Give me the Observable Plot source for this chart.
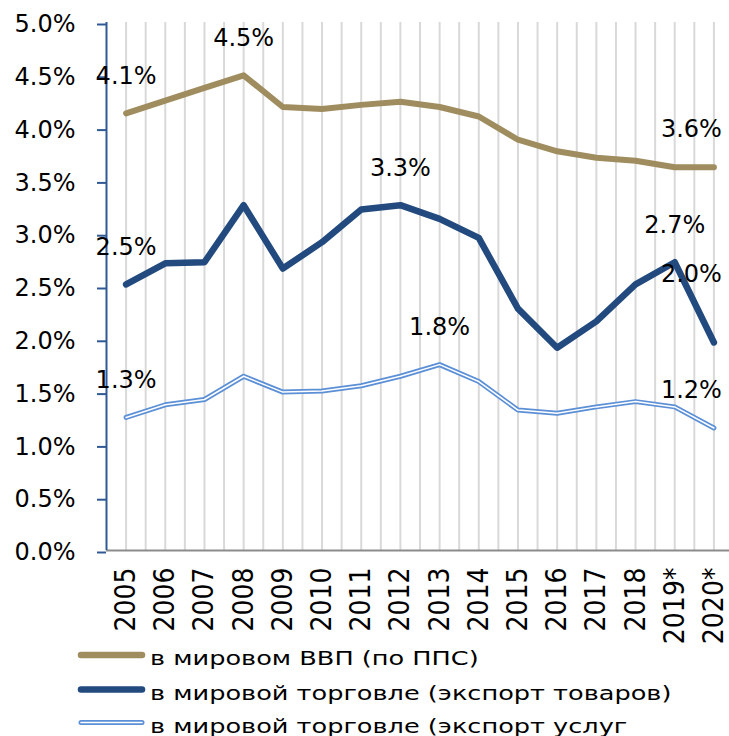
<!DOCTYPE html>
<html>
<head>
<meta charset="utf-8">
<script src="https://cdn.jsdelivr.net/npm/d3@7"></script>
<script src="https://cdn.jsdelivr.net/npm/@observablehq/plot@0.6"></script>
<style>
  html, body { margin: 0; padding: 0; background: #fff; }
  #wrap { position: relative; width: 729px; height: 736px; overflow: hidden; }
  #chart svg { display: block; overflow: visible; }
  #legend { position: absolute; left: 0; top: 640px; }
  #legend svg { display: block; }
</style>
</head>
<body>
<div id="wrap"><div id="chart"></div><div id="legend"></div></div>
<script>
// ---- data ----
const years = ["2005","2006","2007","2008","2009","2010","2011","2012","2013","2014","2015","2016","2017","2018","2019*","2020*"];
const gdpShare = [4.14,4.26,4.38,4.50,4.20,4.18,4.22,4.25,4.20,4.11,3.89,3.78,3.72,3.69,3.63,3.63];
const goodsShare = [2.52,2.72,2.73,3.27,2.67,2.92,3.23,3.27,3.14,2.96,2.29,1.92,2.17,2.52,2.73,1.97];
const servicesShare = [1.26,1.38,1.43,1.65,1.50,1.51,1.56,1.65,1.76,1.60,1.33,1.30,1.36,1.41,1.36,1.16];
const yTicks = [0,0.5,1,1.5,2,2.5,3,3.5,4,4.5,5];
const seriesNames = ["в мировом ВВП (по ППС)", "в мировой торговле (экспорт товаров)", "в мировой торговле (экспорт услуг"];
const gdpLabelYears = ["2005","2008","2020*"];
const goodsLabelYears = ["2005","2012","2019*","2020*"];
const servicesLabelYears = ["2005","2013","2020*"];

// ---- styles ----
const cGdp = "#a08d5f", cGoods = "#224a7e", cServ = "#5b8fd6";
const numFont = "DejaVu Sans";
const narrowFont = "'Liberation Sans Narrow', 'DejaVu Sans Condensed', sans-serif";

const toRows = (vals) => vals.map((v, i) => ({i, v, year: years[i]}));
const gdp = toRows(gdpShare), goods = toRows(goodsShare), serv = toRows(servicesShare);
const fmt = d => d.v.toFixed(1) + "%";

function labelMarks(rows, labelYears) {
  const pick = rows.filter(d => labelYears.includes(d.year));
  const mid = pick.filter(d => d.i < years.length - 1);
  const last = pick.filter(d => d.i === years.length - 1);
  return [mid, last];
}
const [gdpMid, gdpLast] = labelMarks(gdp, gdpLabelYears);
const [goodsMid, goodsLast] = labelMarks(goods, goodsLabelYears);
const [servMid, servLast] = labelMarks(serv, servicesLabelYears);

const txt = {fontFamily: numFont, fontSize: 24, fill: "#000"};

const chart = Plot.plot({
  width: 729,
  height: 640,
  marginLeft: 106,
  marginRight: 0,
  marginTop: 22,
  marginBottom: 90,
  x: {domain: [-0.5, years.length - 0.5], range: [106, 733]},
  y: {domain: [0, 5]},
  style: {background: "transparent", color: "#000", overflow: "visible"},
  marks: [
    Plot.ruleX(d3.range(0, years.length - 0.5, 0.5), {y1: 0, y2: 5, stroke: "#d9d9d9", strokeWidth: 2}),
    Plot.ruleY([0], {x1: -0.5, x2: years.length - 0.5, stroke: "#8c8c8c", strokeWidth: 2}),
    Plot.ruleX([-0.5], {y1: 0, y2: 5, stroke: "#2f5a96", strokeWidth: 2}),
    Plot.axisY({ticks: yTicks, tickFormat: d => d.toFixed(1) + "%", tickSize: 9, tickPadding: 22,
      stroke: "#2f5a96", strokeWidth: 2, label: null, dy: 2, ...txt}),
    Plot.axisX({ticks: d3.range(years.length), tickFormat: i => years[i], tickRotate: -90,
      tickSize: 0, tickPadding: 17, label: null, fontFamily: narrowFont, fontSize: 28, fill: "#000"}),
    Plot.line(gdp, {x: "i", y: "v", stroke: cGdp, strokeWidth: 6, strokeLinejoin: "round", strokeLinecap: "round"}),
    Plot.line(goods, {x: "i", y: "v", stroke: cGoods, strokeWidth: 6.5, strokeLinejoin: "round", strokeLinecap: "round"}),
    Plot.line(serv, {x: "i", y: "v", stroke: cServ, strokeWidth: 5, strokeLinejoin: "round", strokeLinecap: "round"}),
    Plot.line(serv, {x: "i", y: "v", stroke: "#fff", strokeWidth: 1.5, strokeLinejoin: "round", strokeLinecap: "round"}),
    Plot.text([...gdpMid, ...goodsMid, ...servMid], {x: "i", y: "v", text: fmt, dy: -37, ...txt}),
    Plot.text([...gdpLast, ...servLast], {x: "i", y: "v", text: fmt, dy: -38, dx: 8, textAnchor: "end", ...txt}),
    Plot.text(goodsLast, {x: "i", y: "v", text: fmt, dy: -68, dx: 8, textAnchor: "end", ...txt})
  ]
});
document.getElementById("chart").appendChild(chart);

// ---- legend ----
const rowY = [15, 49.5, 82.5];
const lg = d3.create("svg").attr("width", 729).attr("height", 96);
const styles = [
  [{c: cGdp, w: 6.5}],
  [{c: cGoods, w: 6.5}],
  [{c: cServ, w: 5}, {c: "#fff", w: 1.6}]
];
seriesNames.forEach((name, k) => {
  styles[k].forEach(s => {
    lg.append("line").attr("x1", 81).attr("x2", 142).attr("y1", rowY[k]).attr("y2", rowY[k])
      .attr("stroke", s.c).attr("stroke-width", s.w).attr("stroke-linecap", "round");
  });
  lg.append("text").attr("transform", `translate(150,${rowY[k] + 10}) scale(1.28,1)`)
    .attr("font-family", numFont).attr("font-size", 20).attr("fill", "#000").text(name);
});
document.getElementById("legend").appendChild(lg.node());
</script>
</body>
</html>
